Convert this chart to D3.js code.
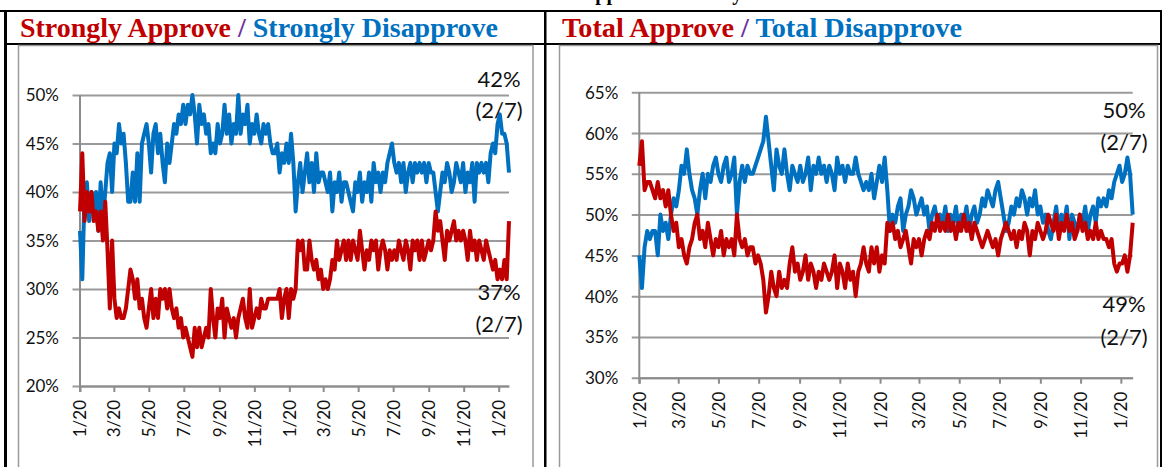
<!DOCTYPE html>
<html>
<head>
<meta charset="utf-8">
<script src="https://cdn.jsdelivr.net/npm/d3@7"></script>
<style>
  html, body { margin: 0; padding: 0; background: #fff; }
  svg { display: block; }
</style>
</head>
<body>
<svg id="chart"></svg>
<script>
// daily tracking, one reading every 4 days from 1/20/21 to 2/7/23
const startDate = "2021-01-20";
const stepDays = 4;

const strongApprove = [38,44,37,40,38,40,37,38,36,38,35,39,34,28,35,29,27,28,27,27,
  28,30,32,31,29,31,28,29,27,26,28,30,27,29,27,30,29,30,28,30,
  28,27,28,26,27,25,26,25,24,23,26,24,26,24,25,26,25,30,27,25,
  28,27,29,25,28,27,26,27,25,27,28,29,27,26,30,26,27,28,27,29,
  28,28,29,29,29,29,29,30,27,29,30,27,30,29,30,35,34,35,32,32,
  35,33,32,33,31,32,30,31,30,31,33,32,35,33,34,35,33,35,33,35,
  34,33,36,34,32,34,33,35,34,35,32,34,35,34,32,34,33,34,33,35,
  34,33,35,34,32,35,34,35,33,35,33,34,35,34,35,38,36,37,35,33,
  36,35,36,37,35,36,35,36,35,33,36,34,35,33,35,34,33,35,34,33,
  32,33,31,32,31,33,31,37];

const strongDisapprove = [36,31,40,41,37,40,38,40,36,41,37,40,43,44,40,45,44,47,45,46,
  43,39,39,42,39,44,39,45,46,47,45,42,46,47,44,46,43,41,45,43,
  45,47,46,48,47,49,47,49,48,50,48,45,49,47,48,46,47,44,45,44,
  47,45,46,49,46,48,45,47,46,50,46,48,47,49,45,47,46,48,46,45,
  47,46,47,45,44,44,45,42,44,43,45,43,46,43,38,41,43,40,42,44,
  41,43,40,44,41,42,42,41,40,42,38,41,40,42,39,41,41,40,39,38,
  41,40,42,39,41,40,42,39,43,41,42,40,42,41,43,44,45,43,42,43,
  41,43,40,42,43,41,43,42,43,42,43,41,43,42,42,40,38,40,42,41,
  43,42,40,41,43,42,41,43,40,42,41,43,39,43,42,43,42,43,41,44,
  45,44,47,48,46,46,45,42];

const totalApprove = [56,59,53,54,54,53,52,54,52,53,51,53,50,48,49,46,47,45,44,46,
  47,49,50,47,48,46,49,47,45,47,46,48,45,47,46,47,45,50,47,46,
  47,45,46,46,44,45,44,42,38,40,43,41,40,43,41,42,41,44,46,43,
  44,42,43,45,42,44,43,41,43,42,44,43,42,43,45,41,44,43,41,44,
  42,43,40,43,44,46,44,43,46,44,46,43,45,44,49,48,49,47,48,46,
  47,48,46,44,47,46,47,45,47,48,47,49,48,50,48,49,48,50,48,49,
  47,49,48,50,48,49,47,49,48,47,46,47,48,47,46,47,45,47,48,49,
  48,47,48,46,48,47,49,48,45,48,47,49,48,47,48,50,49,48,50,47,
  49,48,50,48,49,47,48,50,48,49,47,48,47,49,47,48,47,47,46,47,
  44,43,44,44,45,43,45,49];

const totalDisapprove = [45,41,46,48,47,48,48,45,50,48,49,47,50,52,51,53,56,55,58,55,
  53,52,50,53,55,52,55,54,56,57,55,54,56,57,54,55,57,50,54,56,
  54,56,55,55,56,57,58,59,62,59,56,53,58,56,55,58,55,53,56,55,
  54,56,54,55,57,53,56,55,57,55,56,54,56,55,53,57,55,56,54,56,
  55,55,57,55,54,53,54,53,55,52,54,56,54,57,53,48,50,49,51,52,
  48,50,51,53,52,50,51,52,50,51,48,50,51,49,50,49,51,48,50,49,
  51,48,50,49,51,48,50,51,49,50,52,51,53,52,51,53,54,52,50,48,
  49,51,50,52,51,53,52,50,52,51,53,50,51,49,50,48,47,49,51,48,
  50,49,51,47,50,49,48,50,49,51,48,50,51,49,52,51,52,51,53,52,
  54,55,56,54,55,57,55,50];

// tick labels
const leftTicksY = [20, 25, 30, 35, 40, 45, 50];
const rightTicksY = [30, 35, 40, 45, 50, 55, 60, 65];
const tickDates = ["2021-01-20","2021-03-20","2021-05-20","2021-07-20","2021-09-20","2021-11-20",
  "2022-01-20","2022-03-20","2022-05-20","2022-07-20","2022-09-20","2022-11-20","2023-01-20"];
const endDate = "2023-02-07";

const red = "#C00000",
  blue = "#0070C0",
  purple = "#7030A0";

const width = 1162,
  height = 467;

const parseDate = d3.timeParse("%Y-%m-%d");
const start = parseDate(startDate);
const dates = strongApprove.map((v, i) => d3.timeDay.offset(start, i * stepDays));

const svg = d3.select("#chart").attr("width", width).attr("height", height);

// table borders
svg.append("rect").attr("x", 0).attr("y", 10).attr("width", width).attr("height", 2).attr("fill", "#000");
svg.append("rect").attr("x", 4).attr("y", 43).attr("width", width - 4).attr("height", 2).attr("fill", "#000");
svg.append("rect").attr("x", 4).attr("y", 10).attr("width", 3).attr("height", height).attr("fill", "#000");
svg.append("rect").attr("x", 544).attr("y", 10).attr("width", 2.5).attr("height", height).attr("fill", "#000");
svg.append("rect").attr("x", 1160).attr("y", 10).attr("width", 2).attr("height", height).attr("fill", "#000");

// title above, mostly cut off by the top edge (as in the source)
svg
  .append("text")
  .attr("x", 527)
  .attr("y", 0)
  .style("font-family", "'Liberation Serif', 'Times New Roman', serif")
  .style("font-weight", "bold")
  .style("font-size", "20px")
  .text("Biden Approval Intensity");

function header(x, y, w, parts) {
  const t = svg
    .append("text")
    .attr("x", x)
    .attr("y", y)
    .attr("textLength", w)
    .attr("lengthAdjust", "spacingAndGlyphs")
    .style("font-family", "'Liberation Serif', 'Times New Roman', serif")
    .style("font-weight", "bold")
    .style("font-size", "27px");
  parts.forEach(([txt, col]) => t.append("tspan").attr("fill", col).text(txt));
}

header(20, 37, 478, [["Strongly Approve ", red], ["/ ", purple], ["Strongly Disapprove", blue]]);
header(562, 37, 400, [["Total Approve ", red], ["/ ", purple], ["Total Disapprove", blue]]);

function panel(opts) {
  const g = svg.append("g");

  // inner chart frame
  g.append("rect")
    .attr("x", opts.frame[0])
    .attr("y", 45.5)
    .attr("width", opts.frame[1] - opts.frame[0])
    .attr("height", 440)
    .attr("fill", "none")
    .attr("stroke", "#9a9a9a")
    .attr("stroke-width", 1.5);

  const x = d3
    .scaleTime()
    .domain([start, parseDate(endDate)])
    .range([opts.x0, opts.x1]);
  const y = d3.scaleLinear().domain(opts.yDomain).range([opts.y0, opts.y1]);

  const y_axis = d3
    .axisLeft(y)
    .tickValues(opts.yTicks)
    .tickSize(-(opts.x1 - opts.x0))
    .tickSizeOuter(0)
    .tickPadding(0)
    .tickFormat((d) => d + "%");

  const yg = g.append("g").attr("transform", `translate(${opts.x0},0)`).call(y_axis);
  yg.select(".domain").remove();
  yg.selectAll(".tick line").attr("x1", -7.5).attr("stroke", "#9a9a9a").attr("stroke-width", 2);
  yg.selectAll(".tick text")
    .attr("x", -21)
    .attr("dy", "0.35em")
    .attr("fill", "#111")
    .style("font-family", "Lato, sans-serif")
    .style("font-size", "17px");

  const x_axis = d3
    .axisBottom(x)
    .tickValues(tickDates.map(parseDate))
    .tickSize(6)
    .tickSizeOuter(0)
    .tickFormat(d3.timeFormat("%-m/%d"));

  const xg = g.append("g").attr("transform", `translate(0,${opts.y0})`).call(x_axis);
  xg.select(".domain").attr("stroke", "#8c8c8c").attr("stroke-width", 2);
  xg.selectAll(".tick line").attr("stroke", "#8c8c8c").attr("stroke-width", 2);
  xg.selectAll(".tick text")
    .attr("transform", "rotate(-90)")
    .attr("x", -14)
    .attr("y", 0)
    .attr("dy", "0.35em")
    .attr("text-anchor", "end")
    .attr("fill", "#111")
    .style("font-family", "Lato, sans-serif")
    .style("font-size", "17px");

  // vertical axis line
  g.append("line")
    .attr("x1", opts.x0)
    .attr("x2", opts.x0)
    .attr("y1", opts.y1)
    .attr("y2", opts.y0 + 6)
    .attr("stroke", "#8c8c8c")
    .attr("stroke-width", 2);

  const line = d3
    .line()
    .x((d, i) => x(dates[i]))
    .y((d) => y(d));

  [[opts.disapprove, blue], [opts.approve, red]].forEach(([vals, col]) => {
    g.append("path")
      .attr("fill", "none")
      .attr("stroke", col)
      .attr("stroke-width", 4)
      .attr("stroke-linejoin", "round")
      .attr("d", line(vals));
  });

  // end labels
  opts.notes.forEach(([txt, yy]) => {
    g.append("text")
      .attr("x", opts.noteX)
      .attr("y", yy)
      .attr("text-anchor", "middle")
      .attr("fill", "#111")
      .style("font-family", "Lato, sans-serif")
      .style("font-size", "22px")
      .text(txt);
  });
}

panel({
  frame: [18.5, 533],
  x0: 80,
  x1: 509,
  y0: 386,
  y1: 95,
  yDomain: [20, 50],
  yTicks: leftTicksY,
  approve: strongApprove,
  disapprove: strongDisapprove,
  noteX: 499,
  notes: [[strongDisapprove[strongDisapprove.length - 1] + "%", 87], ["(2/7)", 118],
    [strongApprove[strongApprove.length - 1] + "%", 300], ["(2/7)", 332]]
});

panel({
  frame: [559.5, 1157.5],
  x0: 639.3,
  x1: 1132.7,
  y0: 377.7,
  y1: 92.3,
  yDomain: [30, 65],
  yTicks: rightTicksY,
  approve: totalApprove,
  disapprove: totalDisapprove,
  noteX: 1124,
  notes: [[totalDisapprove[totalDisapprove.length - 1] + "%", 118], ["(2/7)", 150],
    [totalApprove[totalApprove.length - 1] + "%", 312], ["(2/7)", 345]]
});
</script>
</body>
</html>
